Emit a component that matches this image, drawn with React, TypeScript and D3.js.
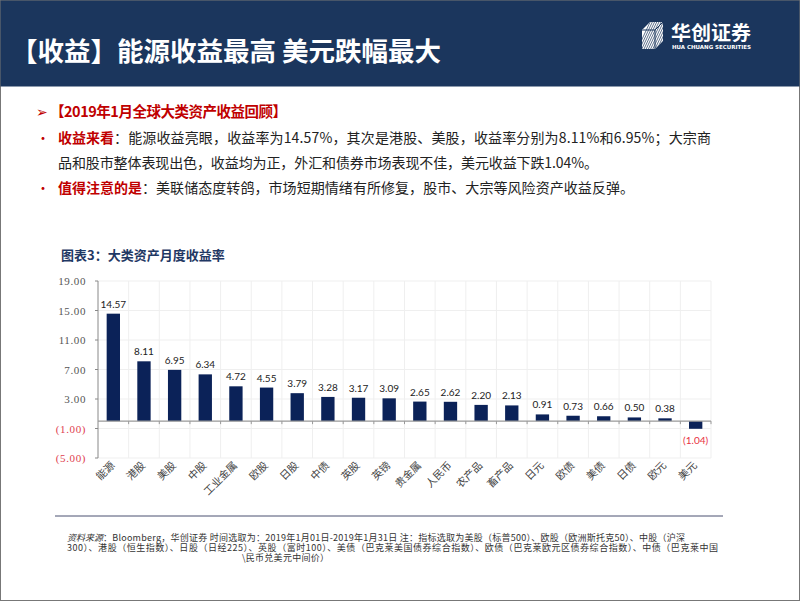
import React from 'react';
import * as d3 from 'd3';

const categories = ['能源', '港股', '美股', '中股', '工业金属', '欧股', '日股', '中债', '英股', '英镑', '贵金属', '人民币', '农产品', '畜产品', '日元', '欧债', '美债', '日债', '欧元', '美元'];
const values = [14.57, 8.11, 6.95, 6.34, 4.72, 4.55, 3.79, 3.28, 3.17, 3.09, 2.65, 2.62, 2.2, 2.13, 0.91, 0.73, 0.66, 0.5, 0.38, -1.04];
const yTicks = [-5, -1, 3, 7, 11, 15, 19];

const fmt = (v: number) => (v < 0 ? `(${Math.abs(v).toFixed(2)})` : v.toFixed(2));

const NAVY = '#0B2258';
const RED = '#C00000';
const SANS = "'Noto Sans CJK SC', 'Noto Sans', sans-serif";

export default function App() {
  const x = d3.scaleBand<string>().domain(categories).range([98, 711]);
  const y = d3.scaleLinear().domain([-5, 19]).range([458, 281]);
  const step = x.step();
  const bw = step * 0.435;
  const y0 = y(0);

  return (
    <svg width={802} height={602} style={{ position: 'absolute', left: 0, top: 0, display: 'block', background: '#fff' }}>
      <defs>
        <linearGradient id="tl" x1="0" x2="1" y1="0" y2="0">
          <stop offset="0" stopColor="#3c4668" />
          <stop offset="0.3" stopColor="#8a90a6" />
          <stop offset="0.6" stopColor="#4a5378" />
          <stop offset="1" stopColor="#8a90a6" />
        </linearGradient>
        <clipPath id="logoClip">
          <polygon points="642,30 650,22 663,22 663,41 655,49 642,49" />
        </clipPath>
      </defs>
      <rect x={0.5} y={0.5} width={799} height={600} fill="#fff" stroke="#777" strokeWidth={1} />
      {/* header */}
      <rect x={0.5} y={0.5} width={799} height={86} fill="#1B365D" />
      <text x={11} y={61} fill="#fff" fontFamily={SANS} fontWeight={700} fontSize={26.5}>【收益】能源收益最高 美元跌幅最大</text>
      {/* logo */}
      <g>
        <polygon points="642,30 650,22 663,22 663,41 655,49 642,49" fill="#fff" />
        <g clipPath="url(#logoClip)">
          {d3.range(0, 16).map((i) => (
            <line key={i} x1={636 + i * 2.2} y1={52} x2={652 + i * 2.2} y2={18} stroke="#1B365D" strokeWidth={0.7} />
          ))}
          <polyline points="642,30 655,30 663,22" fill="none" stroke="#1B365D" strokeWidth={1} />
          <line x1={655} y1={30} x2={655} y2={49} stroke="#1B365D" strokeWidth={1} />
        </g>
        <text x={671} y={40} fill="#fff" fontFamily={SANS} fontWeight={700} fontSize={19} textLength={80} lengthAdjust="spacingAndGlyphs">华创证券</text>
        <text x={672} y={48.5} fill="#fff" fontFamily="'DejaVu Sans Condensed', 'DejaVu Sans', sans-serif" fontWeight={700} fontSize={5.5} textLength={79} lengthAdjust="spacingAndGlyphs">HUA CHUANG SECURITIES</text>
      </g>

      {/* body text */}
      <text x={36} y={117} fill={RED} fontFamily="'DejaVu Sans', sans-serif" fontSize={14}>➢</text>
      <text x={50} y={117} fill={RED} fontFamily={SANS} fontWeight={700} fontSize={14.5} textLength={237} lengthAdjust="spacing">【2019年1月全球大类资产收益回顾】</text>
      <text x={36} y={143} fill={RED} fontFamily={SANS} fontSize={14}>•</text>
      <text x={58} y={143} fontFamily={SANS} fontSize={14} fill={RED} fontWeight={700}>收益来看</text>
      <text x={114} y={143} fontFamily={SANS} fontSize={14} fill="#222" textLength={597} lengthAdjust="spacing">：能源收益亮眼，收益率为14.57%，其次是港股、美股，收益率分别为8.11%和6.95%；大宗商</text>
      <text x={58} y={168} fontFamily={SANS} fontSize={14} fill="#222" textLength={540} lengthAdjust="spacing">品和股市整体表现出色，收益均为正，外汇和债券市场表现不佳，美元收益下跌1.04%。</text>
      <text x={36} y={193} fill={RED} fontFamily={SANS} fontSize={14}>•</text>
      <text x={58} y={193} fontFamily={SANS} fontSize={14} fill={RED} fontWeight={700}>值得注意的是</text>
      <text x={142} y={193} fontFamily={SANS} fontSize={14} fill="#222" textLength={492} lengthAdjust="spacing">：美联储态度转鸽，市场短期情绪有所修复，股市、大宗等风险资产收益反弹。</text>

      {/* chart title */}
      <text x={61} y={260} fill="#1F3864" fontFamily={SANS} fontWeight={700} fontSize={13}>图表3：大类资产月度收益率</text>
      <line x1={55} x2={722} y1={263} y2={263} stroke="url(#tl)" strokeWidth={1.6} />

      {/* grid */}
      <g>
        {yTicks.map((t) => (
          <line key={'h' + t} x1={98} x2={711} y1={y(t)} y2={y(t)} stroke="#efefef" strokeWidth={1} />
        ))}
        {categories.map((c, i) => (
          <line key={'v' + c} x1={98 + step * (i + 1)} x2={98 + step * (i + 1)} y1={y(19)} y2={y(-5)} stroke="#efefef" strokeWidth={1} />
        ))}
      </g>

      {/* bars */}
      {categories.map((c, i) => {
        const v = values[i];
        const cx = (x(c) as number) + step / 2;
        const top = Math.min(y(v), y0);
        const h = Math.abs(y(v) - y0);
        return <rect key={c} x={cx - bw / 2} y={top} width={bw} height={h} fill={NAVY} />;
      })}

      {/* axes */}
      <line x1={98} x2={98} y1={y(19)} y2={y(-5)} stroke="#888" strokeWidth={1} />
      {yTicks.map((t) => (
        <line key={'yt' + t} x1={95} x2={98} y1={y(t)} y2={y(t)} stroke="#888" strokeWidth={1} />
      ))}
      <line x1={98} x2={711} y1={y0} y2={y0} stroke="#999" strokeWidth={1.2} />
      {categories.map((c, i) => (
        <line key={'xt' + c} x1={98 + step * (i + 1)} x2={98 + step * (i + 1)} y1={y0} y2={y0 + 3} stroke="#999" strokeWidth={1} />
      ))}

      {/* y tick labels */}
      {yTicks.map((t) => (
        <text key={'yl' + t} x={86} y={y(t) + 4} textAnchor="end" fontFamily="'Liberation Serif', serif" fontSize={11} letterSpacing={0.6} fill={t < 0 ? '#E0404F' : '#555'}>
          {fmt(t)}
        </text>
      ))}

      {/* value labels */}
      {categories.map((c, i) => {
        const v = values[i];
        const cx = (x(c) as number) + step / 2;
        return (
          <text key={'vl' + c} x={cx} y={v >= 0 ? y(v) - 6 : y(v) + 15} textAnchor="middle" fontFamily="'Lato', 'Open Sans', sans-serif" fontSize={10} fill={v >= 0 ? '#222' : '#E8313F'}>
            {fmt(v)}
          </text>
        );
      })}

      {/* category labels */}
      {categories.map((c) => {
        const cx = (x(c) as number) + step / 2 + 2;
        const ly = 466;
        return (
          <text key={'cl' + c} x={cx} y={ly} textAnchor="end" transform={`rotate(-45 ${cx} ${ly})`} fontFamily={SANS} fontSize={10.5} fill="#444">
            {c}
          </text>
        );
      })}

      {/* footnote */}
      <line x1={55} x2={723} y1={516} y2={516} stroke="#4a5170" strokeWidth={1} />
      <text x={67} y={541} fontFamily={SANS} fontSize={9} fill="#333" fontStyle="italic">资料来源</text>
      <text x={103} y={541} fontFamily={SANS} fontSize={9} fill="#333" textLength={582} lengthAdjust="spacing">：Bloomberg，华创证券  时间选取为：2019年1月01日-2019年1月31日 注：指标选取为美股（标普500）、欧股（欧洲斯托克50）、中股（沪深</text>
      <text x={67} y={551} fontFamily={SANS} fontSize={9} fill="#333" textLength={651} lengthAdjust="spacing">300）、港股（恒生指数）、日股（日经225）、英股（富时100）、美债（巴克莱美国债券综合指数）、欧债（巴克莱欧元区债券综合指数）、中债（巴克莱中国</text>
      <text x={242} y={561} fontFamily={SANS} fontSize={9} fill="#333" textLength={87} lengthAdjust="spacing">\民币兑美元中间价）</text>
    </svg>
  );
}
